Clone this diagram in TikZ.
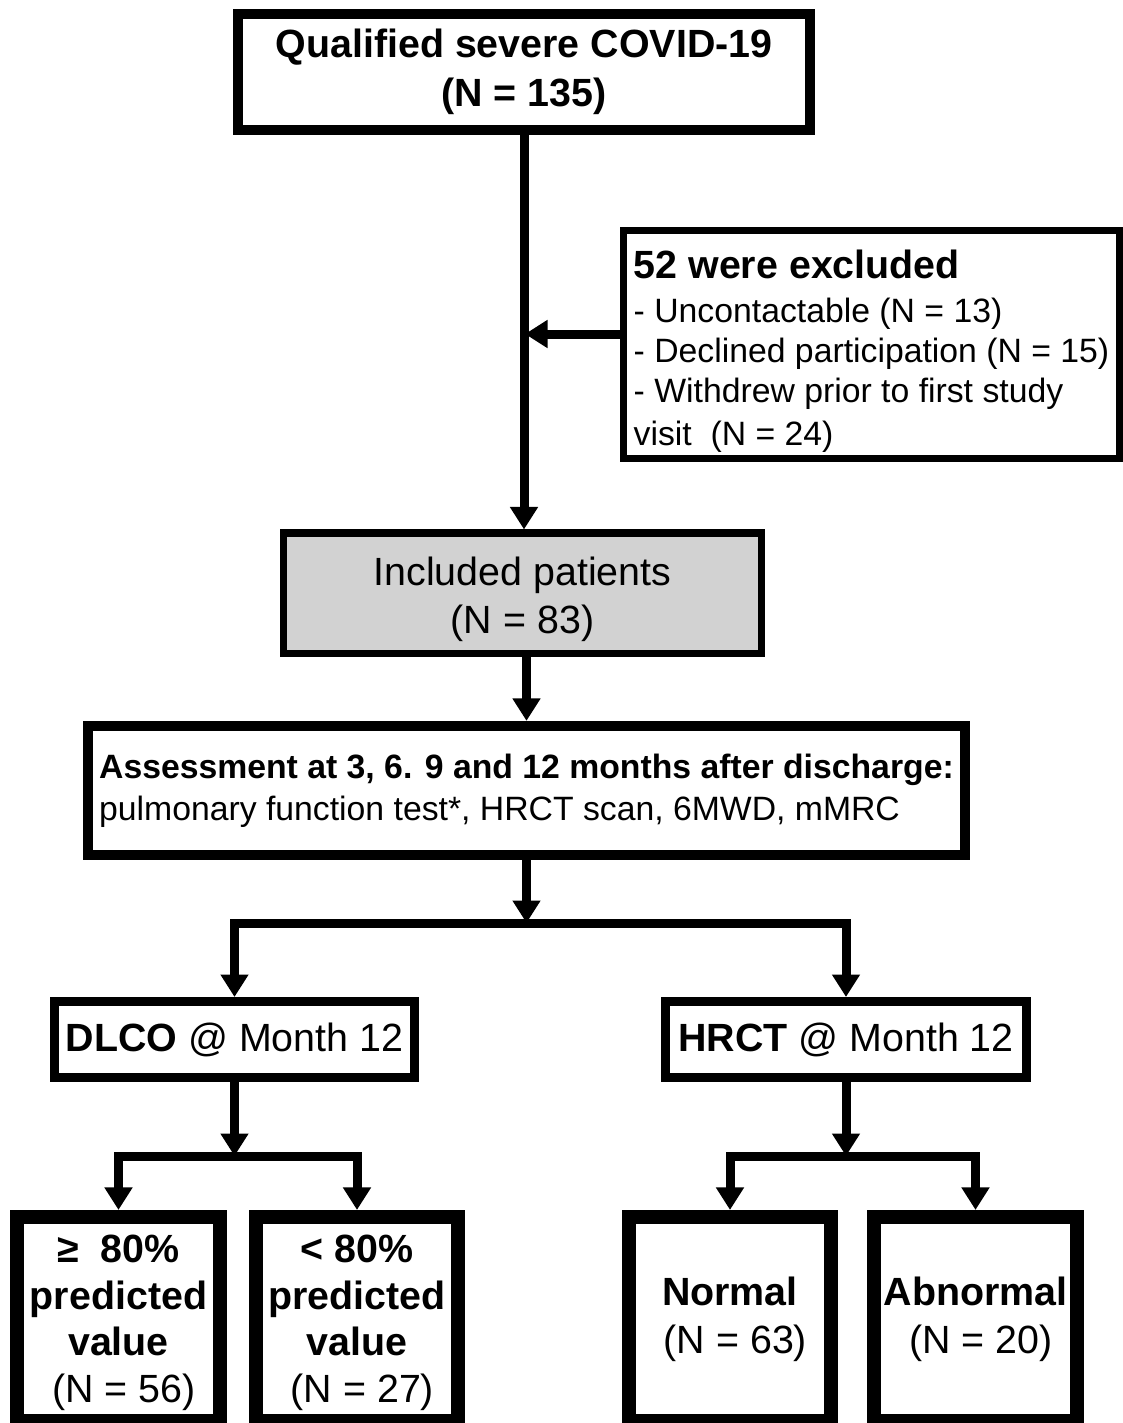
\documentclass[tikz,border=0pt]{standalone}
\usepackage{fontspec}
\setmainfont{Liberation Sans}
\usetikzlibrary{arrows.meta}
\definecolor{incgray}{RGB}{210,210,210}

\begin{document}
\begin{tikzpicture}[x=0.025cm, y=-0.025cm,
  box/.style={draw, align=center, inner sep=0pt},
  arr/.style={line width=6.4pt, line join=miter, -{Triangle[length=16pt, width=19pt]}},
  big/.style={font=\fontsize{28}{34}\selectfont},
  small/.style={font=\fontsize{24}{30}\selectfont},
  leaf/.style={box, big, line width=10pt, minimum width=5.07cm, minimum height=5.1cm}]

  \useasboundingbox (0,0) rectangle (1123,1423);
  \clip (0,0) rectangle (1123,1423);

  % Qualified patients
  \node[box, font=\fontsize{28}{35}\selectfont, line width=7.1pt, minimum width=14.3cm, minimum height=2.9cm]
    (qual) at (524,72) {\textbf{Qualified severe COVID-19}\\\textbf{(N = 135)}};

  % Exclusions
  \node[box, align=left, font=\fontsize{24}{28.5}\selectfont, line width=5pt, minimum width=12.4cm, minimum height=5.7cm]
    (excl) at (871.5,344.5)
    {{\fontsize{28}{28.5}\selectfont\rule{0pt}{29.5pt}\textbf{52 were excluded}}\\[3pt]
     - Uncontactable (N = 13)\\
     - Declined participation (N = 15)\\
     - Withdrew prior to first study\\[1.5pt]
     visit~~(N = 24)};

  % Included
  \node[box, big, fill=incgray, line width=5pt, minimum width=11.95cm, minimum height=3.0cm]
    (incl) at (522.5,593) {\rule{0pt}{29pt}Included patients\\(N = 83)};

  % Follow-up assessment
  \node[box, small, align=left, line width=7.1pt, minimum width=21.93cm, minimum height=3.23cm]
    (assess) at (526.5,790.5)
    {\textbf{Assessment at 3, 6. 9 and 12 months after discharge:}\\pulmonary function test*, HRCT scan, 6MWD, mMRC};

  % Month 12 outcomes
  \node[box, big, line width=6.4pt, minimum width=9.0cm, minimum height=1.9cm]
    (dlco) at (234.5,1039.5) {\textbf{DLCO} @ Month 12};
  \node[box, big, line width=6.4pt, minimum width=9.0cm, minimum height=1.9cm]
    (hrct) at (846,1039.5) {\textbf{HRCT} @ Month 12};

  % Leaves
  \node[leaf, font=\fontsize{28}{33.3}\selectfont] (ge) at (118.5,1319)
    {\rule{0pt}{25pt}\textbf{≥\ \ 80\%}\\\textbf{predicted}\\\textbf{value}\\\ (N = 56)};
  \node[leaf, font=\fontsize{28}{33.3}\selectfont] (lt) at (357,1319)
    {\rule{0pt}{25pt}\textbf{< 80\%}\\\textbf{predicted}\\\textbf{value}\\\ (N = 27)};
  \node[leaf] (norm) at (730,1319) {\textbf{Normal}\\\ (N = 63)};
  \node[leaf] (abn) at (975.5,1319) {\textbf{Abnormal}\\\ (N = 20)};

  % Connectors
  \coordinate (exclin) at (525,334);
  \coordinate (split) at (526.5,923);
  \coordinate (dsplit) at (234.5,1156);
  \coordinate (hsplit) at (846,1156);

  \draw[arr] (qual.south) -- (qual.south |- incl.north);
  \draw[arr] (excl.west |- exclin) -- (exclin);
  \draw[arr] (incl.south -| assess.north) -- (assess.north);
  \draw[arr] (assess.south) -- (split);
  \draw[arr] (split) -| (dlco.north);
  \draw[arr] (split) -| (hrct.north);

  \draw[arr] (dlco.south) -- (dsplit);
  \draw[arr] (dsplit) -| (ge.north);
  \draw[arr] (dsplit) -| (lt.north);
  \draw[arr] (hrct.south) -- (hsplit);
  \draw[arr] (hsplit) -| (norm.north);
  \draw[arr] (hsplit) -| (abn.north);

\end{tikzpicture}
\end{document}
